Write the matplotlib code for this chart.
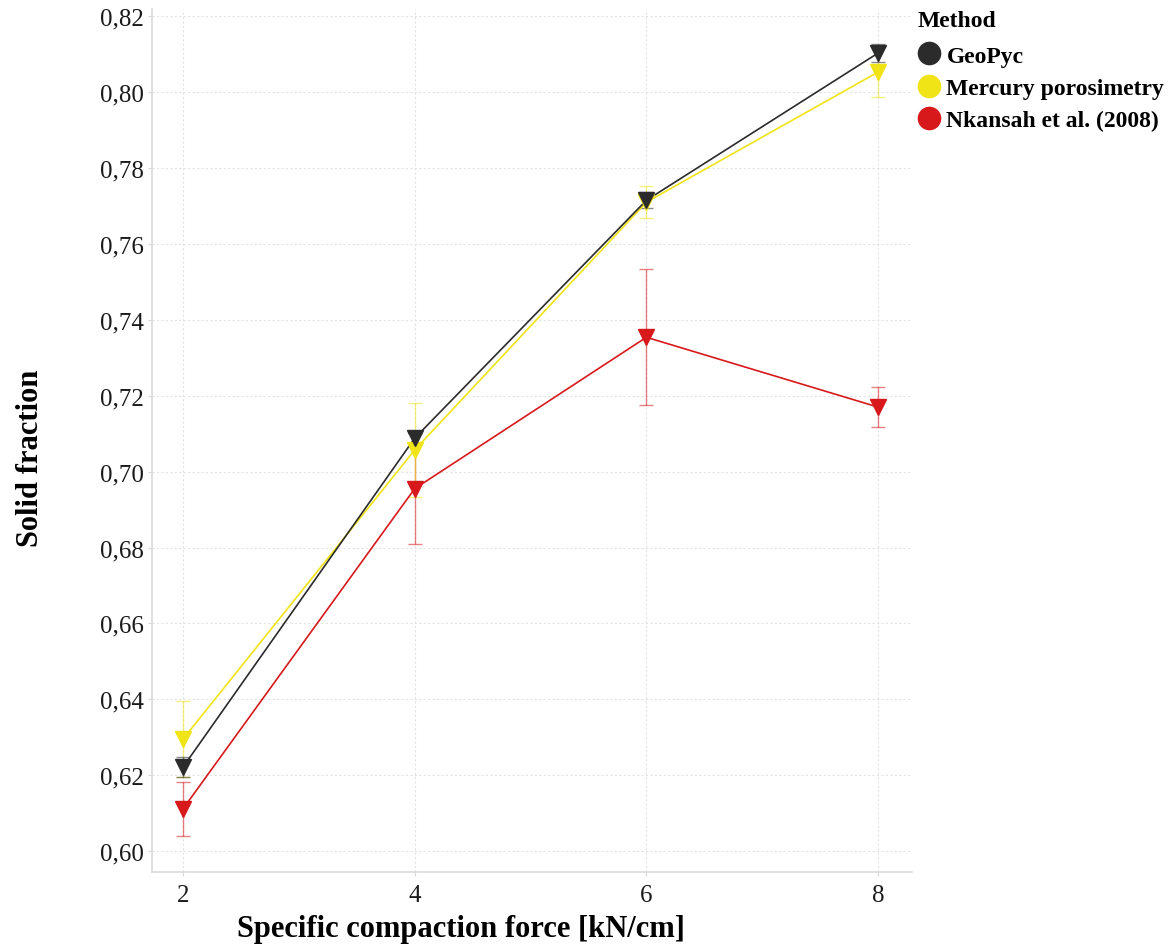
import matplotlib
matplotlib.use("Agg")
import matplotlib.pyplot as plt
from matplotlib.lines import Line2D
from matplotlib.ticker import FuncFormatter

# specific compaction force [kN/cm]
force = [2, 4, 6, 8]

# solid fraction per method, with error bar half-widths
geopyc = [0.6221, 0.7088, 0.7715, 0.8103]
geopyc_err = [0.0026, 0.0015, 0.0021, 0.0024]

mercury = [0.6295, 0.7057, 0.7710, 0.8053]
mercury_err = [0.0100, 0.0124, 0.0043, 0.0066]

nkansah = [0.6111, 0.6955, 0.7354, 0.7170]
nkansah_err = [0.0071, 0.0146, 0.0179, 0.0053]

methods = ["GeoPyc", "Mercury porosimetry", "Nkansah et al. (2008)"]
colors = ["#2b2b2b", "#f0e416", "#d7191c"]

serif = ["Liberation Serif", "DejaVu Serif"]

fig = plt.figure(figsize=(11.68, 9.45), dpi=100)
ax = fig.add_axes([0.130, 0.0762, 0.651, 0.9128])

series = [(geopyc, geopyc_err), (mercury, mercury_err), (nkansah, nkansah_err)]
# draw red first so the black and yellow sit on top
for (vals, errs), col in reversed(list(zip(series, colors))):
    ax.errorbar(force, vals, yerr=errs, fmt="none", ecolor=col, elinewidth=1.0,
                capsize=5, capthick=1.0, alpha=0.55, zorder=2)
    ax.plot(force, vals, color=col, lw=1.2, zorder=3)
    ax.plot(force, vals, ls="none", marker="v", ms=11, color=col,
            markeredgecolor=col, zorder=4)

ax.set_xlim(1.732, 8.294)
ax.set_ylim(0.5945, 0.8218)
ax.set_xticks(force)
ax.set_yticks([0.60 + 0.02 * i for i in range(12)])
ax.yaxis.set_major_formatter(FuncFormatter(lambda v, _: f"{v:.2f}".replace(".", ",")))

ax.grid(True, color="#e3e3e3", ls=(0, (2, 2)), lw=0.8)
ax.set_axisbelow(True)
for side in ["top", "right"]:
    ax.spines[side].set_visible(False)
for side in ["left", "bottom"]:
    ax.spines[side].set_color("#d9d9d9")
    ax.spines[side].set_linewidth(1.2)
ax.tick_params(axis="both", length=3, color="#d9d9d9", labelsize=18, pad=3)
ax.tick_params(axis="x", pad=6)
for lab in ax.get_xticklabels() + ax.get_yticklabels():
    lab.set_family(serif)
    lab.set_color("#1a1a1a")

ax.set_xlabel("Specific compaction force [kN/cm]", family=serif, fontsize=22,
              fontweight="bold")
ax.xaxis.set_label_coords(0.406, -0.049)
ax.set_ylabel("Solid fraction", family=serif, fontsize=22, fontweight="bold")
ax.yaxis.set_label_coords(-0.141, 0.481)

handles = [Line2D([], [], ls="none", marker="o", ms=16, color=c) for c in colors]
leg = fig.legend(handles, methods, title="Method", loc="upper left",
                 bbox_to_anchor=(0.786, 0.988), frameon=False,
                 prop={"family": serif, "size": 17, "weight": "bold"},
                 title_fontproperties={"family": serif, "size": 17, "weight": "bold"},
                 handlelength=0.9, handletextpad=0.3, labelspacing=0.45,
                 borderaxespad=0.0, borderpad=0.0)
leg._legend_box.align = "left"
leg._legend_box.sep = 10

fig.savefig("out.png", dpi=100)
